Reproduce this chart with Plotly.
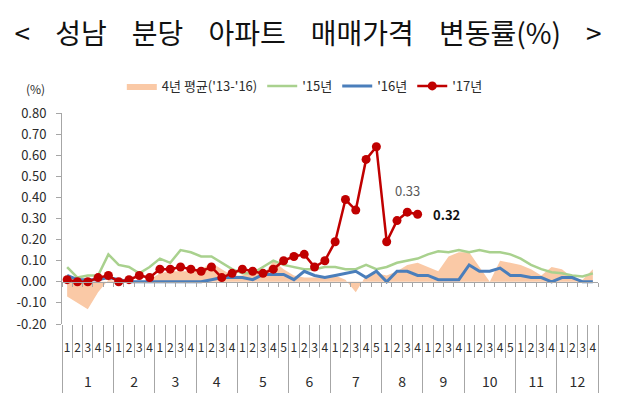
import numpy as np
import plotly.graph_objects as go

# ---------------- data ----------------
month_labels = ["1", "2", "3", "4", "5", "6", "7", "8", "9", "10", "11", "12"]
weeks_per_month = [5, 4, 4, 4, 5, 4, 5, 4, 4, 5, 4, 4]
week_labels = ["1", "2", "3", "4", "5", "1", "2", "3", "4", "1", "2", "3", "4",
               "1", "2", "3", "4", "1", "2", "3", "4", "5", "1", "2", "3", "4",
               "1", "2", "3", "4", "5", "1", "2", "3", "4", "1", "2", "3", "4",
               "1", "2", "3", "4", "5", "1", "2", "3", "4", "1", "2", "3", "4"]

avg_13_16 = [-0.07, -0.10, -0.13, -0.05, 0.01, 0.00, 0.01, 0.00, 0.01, 0.04,
             0.05, 0.05, 0.05, 0.06, 0.09, 0.06, 0.03, 0.03, 0.06, 0.03,
             0.10, 0.06, 0.03, 0.02, 0.02, 0.02, 0.03, 0.01, -0.05, 0.03,
             0.04, 0.03, 0.05, 0.08, 0.09, 0.07, 0.05, 0.12, 0.14, 0.14,
             0.07, 0.00, 0.10, 0.09, 0.08, 0.06, 0.03, 0.07, 0.06, 0.02,
             0.01, 0.06]
y2015 = [0.07, 0.02, 0.03, 0.03, 0.13, 0.08, 0.07, 0.04, 0.07, 0.11,
         0.09, 0.15, 0.14, 0.12, 0.12, 0.09, 0.06, 0.04, 0.04, 0.07,
         0.10, 0.08, 0.07, 0.06, 0.06, 0.07, 0.07, 0.06, 0.06, 0.08,
         0.06, 0.07, 0.09, 0.10, 0.11, 0.13, 0.145, 0.14, 0.15, 0.14,
         0.15, 0.14, 0.14, 0.13, 0.11, 0.08, 0.06, 0.045, 0.04, 0.03,
         0.025, 0.04]
y2016 = [0.03, 0.01, 0.01, 0.01, 0.02, 0.01, 0.00, 0.00, 0.00, 0.00,
         0.00, 0.00, 0.00, 0.00, 0.01, 0.02, 0.02, 0.02, 0.01, 0.035,
         0.035, 0.035, 0.01, 0.05, 0.03, 0.02, 0.03, 0.04, 0.05, 0.02,
         0.05, 0.00, 0.05, 0.05, 0.03, 0.03, 0.01, 0.01, 0.01, 0.08,
         0.05, 0.05, 0.065, 0.03, 0.03, 0.02, 0.02, 0.00, 0.02, 0.02,
         0.00, 0.00]
y2017 = [0.01, 0.00, 0.00, 0.02, 0.03, 0.00, 0.01, 0.03, 0.02, 0.06,
         0.06, 0.07, 0.06, 0.05, 0.07, 0.02, 0.04, 0.06, 0.05, 0.04,
         0.06, 0.10, 0.12, 0.13, 0.07, 0.10, 0.19, 0.39, 0.34, 0.58,
         0.64, 0.19, 0.29, 0.33, 0.32]

ytick_vals = [-0.2, -0.1, 0.0, 0.1, 0.2, 0.3, 0.4, 0.5, 0.6, 0.7, 0.8]
ytick_text = ["-0.20", "-0.10", "0.00", "0.10", "0.20", "0.30", "0.40",
              "0.50", "0.60", "0.70", "0.80"]

# ---------------- figure ----------------
FONT = "Noto Sans CJK KR, Noto Sans, sans-serif"
GRAY = "#a6a6a6"
TXT = "#2b2b2b"

n = sum(weeks_per_month)
x = np.arange(n) + 0.5
bounds = np.concatenate([[0], np.cumsum(weeks_per_month)])
month_centers = (bounds[:-1] + bounds[1:]) / 2

fig = go.Figure()
fig.add_trace(go.Scatter(x=x, y=avg_13_16, name="4년 평균('13-'16)", mode="lines",
                         fill="tozeroy", fillcolor="#fac9a6",
                         line=dict(width=0, color="#fac9a6")))
fig.add_trace(go.Scatter(x=x, y=y2015, name="'15년", mode="lines",
                         line=dict(color="#a9d18e", width=2.5)))
fig.add_trace(go.Scatter(x=x, y=y2016, name="'16년", mode="lines",
                         line=dict(color="#4a7ebb", width=3)))
fig.add_trace(go.Scatter(x=x[:len(y2017)], y=y2017, name="'17년", mode="lines+markers",
                         line=dict(color="#c00000", width=2.5),
                         marker=dict(color="#c00000", size=9)))

# empty traces so that the helper (overlay) axes are drawn
for ax in ["x2", "x3", "x4", "x5"]:
    fig.add_trace(go.Scatter(x=[None], y=[None], xaxis=ax, yaxis="y", mode="lines",
                             showlegend=False, hoverinfo="skip"))

i33 = len(y2017) - 2
i34 = len(y2017) - 1
fig.add_annotation(x=x[i33], y=y2017[i33], text=f"{y2017[i33]:.2f}", showarrow=False,
                   yanchor="bottom", yshift=10, font=dict(family=FONT, size=13, color="#595959"))
fig.add_annotation(x=x[i34], y=y2017[i34], text=f"<b>{y2017[i34]:.2f}</b>", showarrow=False,
                   xanchor="left", xshift=13, font=dict(family=FONT, size=13, color="#111111"))
fig.add_annotation(xref="paper", yref="paper", x=-0.05, y=1.114, text="(%)", showarrow=False,
                   xanchor="center", yanchor="middle",
                   font=dict(family=FONT, size=12, color=TXT))

sp = "\u00a0" * 4
title = "<" + sp + "성남" + sp + "분당" + sp + "아파트" + sp + "매매가격" + sp + "변동률(%)" + sp + ">"

common = dict(range=[0, n], showgrid=False, zeroline=False, fixedrange=True)
fig.update_layout(
    width=630, height=412,
    margin=dict(l=62, r=32, t=113, b=88),
    paper_bgcolor="white", plot_bgcolor="white",
    font=dict(family=FONT, color=TXT),
    title=dict(text=title, x=0.489, xanchor="center", y=0.918, yanchor="middle",
               font=dict(family=FONT, size=28, color="#111111")),
    showlegend=True,
    legend=dict(orientation="h", x=0.453, xanchor="center", y=1.128, yanchor="middle",
                font=dict(family=FONT, size=13, color=TXT), itemwidth=30,
                bgcolor="rgba(0,0,0,0)"),
    xaxis=dict(**common, tickvals=x, ticktext=week_labels, ticks="outside", ticklen=13,
               tickcolor="rgba(0,0,0,0)", showline=False,
               tickfont=dict(family=FONT, size=12, color=TXT)),
    xaxis2=dict(**common, overlaying="x", anchor="y", side="bottom",
                tickvals=list(range(n + 1)), ticks="outside", ticklen=33, tickcolor=GRAY,
                showticklabels=False, showline=False),
    xaxis3=dict(**common, overlaying="x", anchor="y", side="bottom",
                tickvals=list(bounds), ticks="outside", ticklen=68, tickcolor=GRAY,
                showticklabels=False, showline=False),
    xaxis4=dict(**common, overlaying="x", anchor="y", side="bottom",
                tickvals=list(month_centers), ticktext=month_labels, ticks="outside",
                ticklen=45, tickcolor="rgba(0,0,0,0)", showline=False,
                tickfont=dict(family=FONT, size=14, color=TXT)),
    xaxis5=dict(**common, overlaying="x", anchor="free", position=0.2, side="bottom",
                tickvals=list(range(n + 1)), ticks="outside", ticklen=4, tickcolor=GRAY,
                showticklabels=False, showline=True, linecolor=GRAY, linewidth=1),
    yaxis=dict(range=[-0.2, 0.8], tickvals=ytick_vals, ticktext=ytick_text,
               ticks="outside", ticklen=5, tickcolor=GRAY, showline=True, linecolor=GRAY,
               showgrid=False, zeroline=False, fixedrange=True, ticklabelstandoff=7,
               tickfont=dict(family=FONT, size=13, color=TXT)),
)

fig.write_html("out.html")
